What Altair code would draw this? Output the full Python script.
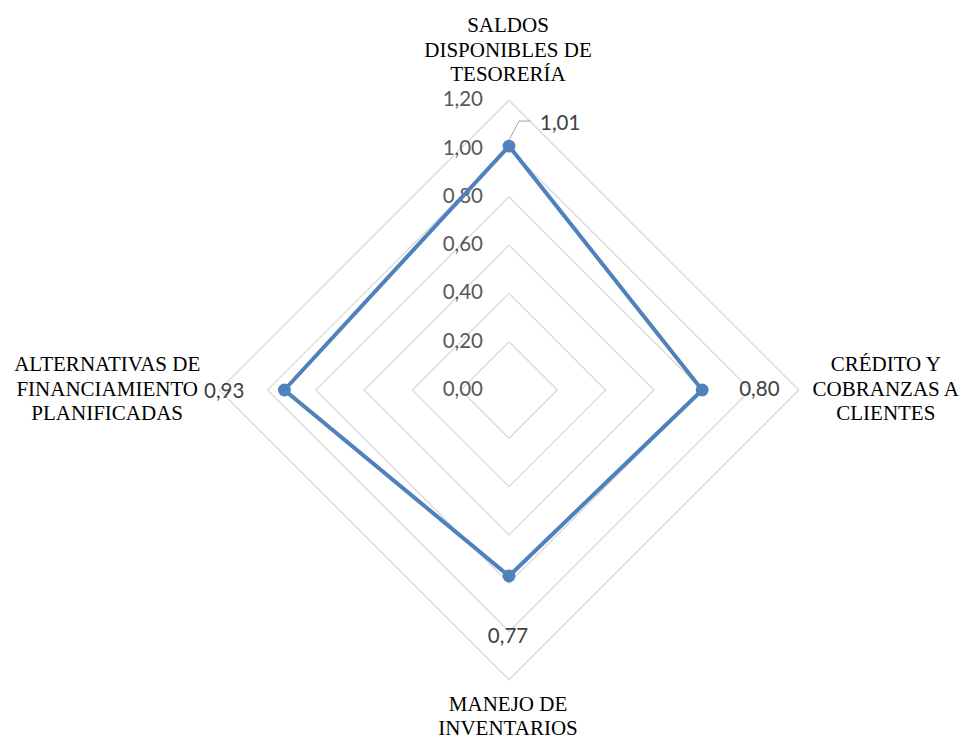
import math
import altair as alt
import pandas as pd

# Radar chart: four axes, diamond grid from 0.20 to 1.20
categories = [
    "SALDOS\nDISPONIBLES DE\nTESORERÍA",
    "CRÉDITO Y\nCOBRANZAS A\nCLIENTES",
    "MANEJO DE\nINVENTARIOS",
    "ALTERNATIVAS DE\nFINANCIAMIENTO\nPLANIFICADAS",
]
values = [1.01, 0.80, 0.77, 0.93]
value_labels = ["1,01", "0,80", "0,77", "0,93"]
grid_levels = [0.2, 0.4, 0.6, 0.8, 1.0, 1.2]
tick_labels = ["0,00", "0,20", "0,40", "0,60", "0,80", "1,00", "1,20"]
tick_values = [0.0, 0.2, 0.4, 0.6, 0.8, 1.0, 1.2]

W, H = 963, 738
CX, CY = 509, 390          # centre of the radar in pixels
PX_PER_UNIT = 241.5        # pixels per 1.00 of the radial scale
R_MAX = 1.2

angles = [90, 0, -90, 180]  # top, right, bottom, left


def polar(r, ang):
    a = math.radians(ang)
    return r * math.cos(a), r * math.sin(a)


x_scale = alt.Scale(domain=[-CX / PX_PER_UNIT, (W - CX) / PX_PER_UNIT], nice=False, zero=False)
y_scale = alt.Scale(domain=[-(H - CY) / PX_PER_UNIT, CY / PX_PER_UNIT], nice=False, zero=False)
X = lambda f: alt.X(f, type="quantitative", scale=x_scale, axis=None)
Y = lambda f: alt.Y(f, type="quantitative", scale=y_scale, axis=None)

# grid diamonds
grid_rows = []
for lvl in grid_levels:
    for i, ang in enumerate(angles + [angles[0]]):
        x, y = polar(lvl, ang)
        grid_rows.append({"level": lvl, "order": i, "x": x, "y": y})
grid_df = pd.DataFrame(grid_rows)

grid = alt.Chart(grid_df).mark_line(color="#d9d9d9", strokeWidth=1.3).encode(
    x=X("x"), y=Y("y"), detail="level:N", order="order:Q"
)

# series polygon
series_rows = []
for i, (v, ang) in enumerate(zip(values + [values[0]], angles + [angles[0]])):
    x, y = polar(v, ang)
    series_rows.append({"order": i, "x": x, "y": y})
series_df = pd.DataFrame(series_rows)

line = alt.Chart(series_df).mark_line(color="#4f81bd", strokeWidth=4, strokeJoin="miter").encode(
    x=X("x"), y=Y("y"), order="order:Q"
)

pts_df = pd.DataFrame(
    [dict(zip(["x", "y"], polar(v, a)), label=l, cat=c) for v, a, l, c in zip(values, angles, value_labels, categories)]
)
points = alt.Chart(pts_df).mark_circle(color="#4f81bd", opacity=1, size=165).encode(x=X("x"), y=Y("y"))

# radial tick labels along the top axis
ticks_df = pd.DataFrame({"x": [0.0] * len(tick_values), "y": tick_values, "t": tick_labels})
ticks = alt.Chart(ticks_df).mark_text(
    align="right", baseline="middle", dx=-26, font="Lato", fontSize=20.5, color="#595959"
).encode(x=X("x"), y=Y("y"), text="t:N")

label_font = dict(font="Lato", fontSize=20.5, color="#404040", baseline="middle")


def value_label(idx, **kw):
    return alt.Chart(pts_df.iloc[[idx]]).mark_text(**label_font, **kw).encode(
        x=X("x"), y=Y("y"), text="label:N"
    )


vlabels = [
    value_label(0, align="left", dx=31, dy=-22),
    value_label(1, align="left", dx=37, dy=0),
    value_label(2, align="center", dx=-1, dy=61),
    value_label(3, align="right", dx=-40, dy=2),
]

# leader line for the top value label
lead_df = pd.DataFrame(
    [
        {"order": 0, "x": 0.0, "y": values[0] + 6 / PX_PER_UNIT},
        {"order": 1, "x": 10 / PX_PER_UNIT, "y": values[0] + 25 / PX_PER_UNIT},
        {"order": 2, "x": 22 / PX_PER_UNIT, "y": values[0] + 25 / PX_PER_UNIT},
    ]
)
leader = alt.Chart(lead_df).mark_line(color="#a6a6a6", strokeWidth=1).encode(
    x=X("x"), y=Y("y"), order="order:Q"
)

# category labels at the end of each axis (dy positions the first line)
cat_df = pd.DataFrame(
    [dict(zip(["x", "y"], polar(R_MAX, a)), cat=c) for a, c in zip(angles, categories)]
)
cat_font = dict(font="Liberation Serif", fontSize=21, color="#000000", lineHeight=24.5,
                baseline="middle", align="center")


def cat_label(idx, dx, dy):
    return alt.Chart(cat_df.iloc[[idx]]).mark_text(**cat_font, dx=dx, dy=dy, lineBreak="\n").encode(
        x=X("x"), y=Y("y"), text="cat:N"
    )


cats = [
    cat_label(0, -1, -74),
    cat_label(1, 87, -25),
    cat_label(2, -1, 25),
    cat_label(3, -112, -25),
]

chart = alt.layer(grid, ticks, line, points, leader, *vlabels, *cats).properties(
    width=W, height=H, padding=0, autosize=alt.AutoSizeParams(type="none")
).configure_view(stroke=None)

chart.save("out.html", embed_options={"renderer": "svg", "actions": False})
